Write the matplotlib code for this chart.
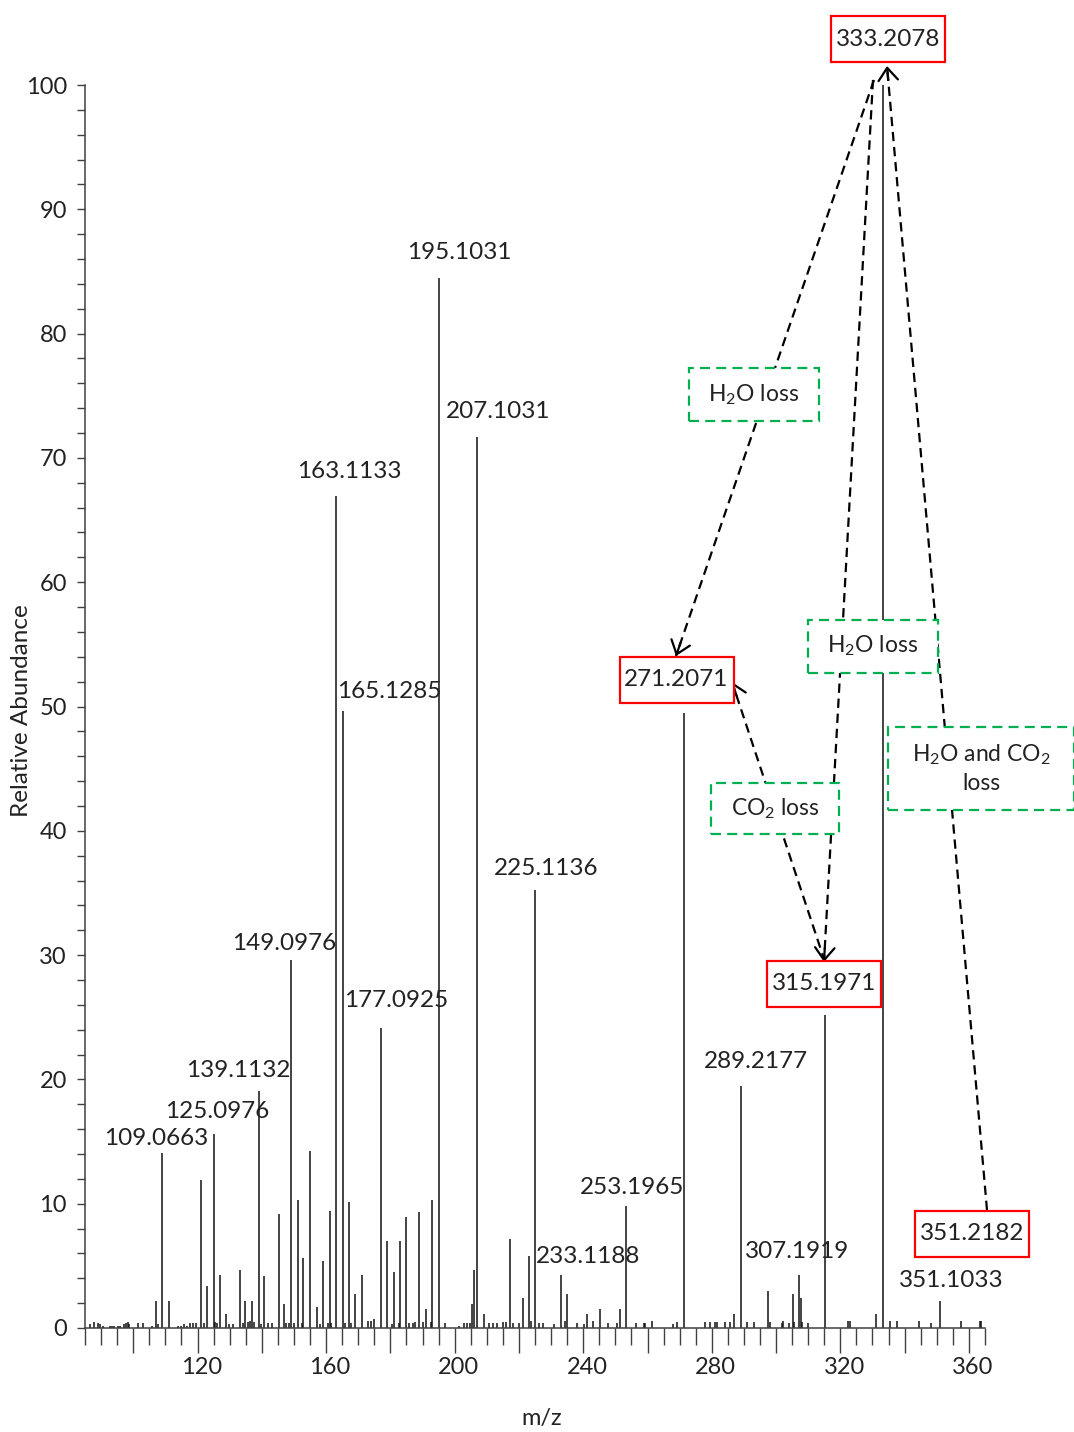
import matplotlib
matplotlib.use("Agg")
import matplotlib.pyplot as plt
from matplotlib.ticker import MultipleLocator, FuncFormatter
from matplotlib.patches import Rectangle
from matplotlib.transforms import IdentityTransform, ScaledTranslation
import numpy as np

plt.rcParams['font.family'] = ['Lato', 'DejaVu Sans']
plt.rcParams['mathtext.fontset'] = 'custom'
plt.rcParams['mathtext.rm'] = 'Lato'
plt.rcParams['mathtext.it'] = 'Lato:italic'
plt.rcParams['mathtext.bf'] = 'Lato:bold'

TEXT = '#222222'
FS_TICK = 17
FS_NUM = 17.5
FS_LOSS = 16.5
W, H = 1074, 1432

# --- labelled peaks (m/z, relative abundance) ---
label_mz = [109.0663, 125.0976, 139.1132, 149.0976, 163.1133, 165.1285, 177.0925,
            195.1031, 207.1031, 225.1136, 233.1188, 253.1965, 289.2177, 307.1919,
            351.1033]
label_int = [14.1, 15.6, 19.1, 29.6, 66.9, 49.6, 24.1,
             84.5, 71.7, 35.2, 4.3, 9.8, 19.5, 4.3,
             2.2]
# label offsets (pixels) from peak top
label_off = [(-6, 14), (3, 23), (-21, 20), (-7, 17), (13, 25), (47, 20), (15, 28),
             (20, 25), (21, 25), (11, 22), (27, 18), (6, 19), (15, 24), (-2, 23),
             (11, 20)]

# --- boxed key ions ---
key_mz = [271.2071, 315.1971, 333.2078]
key_int = [49.5, 25.2, 100.0]
key_off = [(-7, 33), (-1, 31), (5, 46)]

# --- other resolved peaks ---
mid_mz = [107.0, 111.0, 121.1, 123.0, 127.0, 128.9, 133.2, 134.9, 136.9, 140.8,
          145.3, 146.8, 151.3, 152.8, 155.1, 157.2, 159.0, 161.1, 167.0, 169.0,
          171.1, 179.0, 181.0, 183.0, 184.9, 188.9, 191.1, 192.9, 205.3, 205.9,
          209.1, 217.2, 221.2, 223.1, 235.0, 241.1, 245.3, 251.4, 287.0, 297.4,
          305.3, 307.7, 331.1]
mid_int = [2.2, 2.2, 11.9, 3.4, 4.3, 1.1, 4.7, 2.2, 2.2, 4.2,
           9.2, 1.9, 10.3, 5.6, 14.2, 1.7, 5.4, 9.4, 10.1, 2.7,
           4.3, 7.0, 4.5, 7.0, 8.9, 9.3, 1.5, 10.3, 1.9, 4.7,
           1.1, 7.2, 2.4, 5.8, 2.7, 1.1, 1.5, 1.5, 1.1, 3.0,
           2.7, 2.4, 1.1]

# --- baseline noise peaks ---
noise_mz = [86.5, 87.7, 89.1, 89.7, 90.6, 92.8, 93.4, 94.0, 95.3, 95.9,
            97.1, 97.7, 98.4, 98.7, 101.4, 103.0, 105.8, 107.8, 113.9, 114.9,
            115.8, 116.7, 117.7, 118.6, 119.5, 122.0, 125.4, 126.1, 129.8, 131.0,
            134.1, 135.7, 136.3, 137.6, 139.7, 141.8, 143.1, 147.5, 148.5, 150.0,
            152.5, 158.1, 160.5, 161.5, 165.9, 167.7, 172.9, 174.0, 175.0, 180.5,
            182.7, 185.8, 186.9, 187.7, 190.1, 192.6, 197.0, 201.2, 203.0, 203.8,
            204.7, 210.8, 211.8, 213.2, 214.9, 216.0, 218.1, 220.1, 223.7, 226.3,
            227.4, 231.0, 234.4, 238.2, 240.1, 242.9, 247.6, 250.5, 256.4, 258.8,
            259.2, 261.4, 268.0, 269.1, 277.8, 279.4, 281.0, 281.6, 284.2, 285.7,
            291.0, 293.0, 298.2, 301.7, 302.0, 304.1, 305.7, 308.2, 309.8, 322.3,
            323.1, 335.5, 337.6, 344.4, 348.2, 357.5, 363.4, 363.7]
noise_int = [0.3, 0.45, 0.4, 0.3, 0.2, 0.2, 0.2, 0.2, 0.2, 0.2,
             0.3, 0.4, 0.45, 0.3, 0.4, 0.4, 0.2, 0.3, 0.2, 0.2,
             0.3, 0.2, 0.4, 0.4, 0.4, 0.4, 0.5, 0.4, 0.3, 0.3,
             0.4, 0.5, 0.6, 0.5, 0.3, 0.4, 0.4, 0.4, 0.4, 0.4,
             0.4, 0.3, 0.4, 0.4, 0.4, 0.4, 0.6, 0.6, 0.7, 0.3,
             0.4, 0.4, 0.4, 0.5, 0.5, 0.5, 0.4, 0.2, 0.4, 0.4,
             0.4, 0.4, 0.4, 0.4, 0.5, 0.5, 0.4, 0.4, 0.6, 0.4,
             0.4, 0.3, 0.6, 0.4, 0.3, 0.6, 0.4, 0.4, 0.4, 0.4,
             0.4, 0.6, 0.3, 0.5, 0.5, 0.5, 0.5, 0.5, 0.5, 0.5,
             0.5, 0.5, 0.5, 0.4, 0.6, 0.4, 0.5, 0.5, 0.4, 0.6,
             0.6, 0.6, 0.6, 0.6, 0.4, 0.6, 0.6, 0.6]

prec_label = '351.2182'
loss_texts = ['H$_2$O loss', 'H$_2$O loss', 'CO$_2$ loss', 'H$_2$O and CO$_2$\nloss']

# layout (pixels from top-left): box centres and sizes, arrows
RED_SIZE = (114, 46)
prec_pos = (972, 1233.5)
loss_pos = [(754, 394.5), (873, 646), (775, 808.5), (981, 768.5)]
loss_size = [(130, 53), (130, 53), (128, 51), (186, 83)]
arrow_px = [((874, 80), (676, 656)),
            ((873, 80), (824, 962)),
            ((987, 1210), (887, 66)),
            ((825, 962), (732, 682))]

fig = plt.figure(figsize=(W / 100, H / 100), dpi=100)
ax = fig.add_axes([85 / W, 1 - 1328 / H, 900 / W, 1243 / H])

all_mz = np.array(label_mz + key_mz + mid_mz + noise_mz)
all_int = np.array(label_int + key_int + mid_int + noise_int)
ax.vlines(all_mz, 0, all_int, color='#111111', lw=1.1, zorder=2, clip_on=False)

ax.set_xlim(85, 365)
ax.set_ylim(0, 100)
for s in ['top', 'right']:
    ax.spines[s].set_visible(False)
for s in ['left', 'bottom']:
    ax.spines[s].set_color('#404040')
    ax.spines[s].set_linewidth(1.1)

ax.xaxis.set_major_locator(MultipleLocator(20))
ax.xaxis.set_minor_locator(MultipleLocator(5))
ax.xaxis.set_major_formatter(FuncFormatter(
    lambda v, p: f"{v:.0f}" if round(v - 120) % 40 == 0 else ""))
ax.yaxis.set_major_locator(MultipleLocator(10))
ax.yaxis.set_minor_locator(MultipleLocator(2))
ax.tick_params(axis='x', which='major', length=18, width=1.0, color='#404040',
               labelsize=FS_TICK, labelcolor=TEXT, pad=3)
ax.tick_params(axis='x', which='minor', length=12.5, width=1.0, color='#404040')
ax.tick_params(axis='y', which='major', length=6, width=1.0, color='#404040',
               labelsize=FS_TICK, labelcolor=TEXT, pad=7)
ax.tick_params(axis='y', which='minor', length=6, width=1.0, color='#404040')
shift = ScaledTranslation(0.04, 0, fig.dpi_scale_trans)
for lbl in ax.get_xticklabels():
    lbl.set_transform(lbl.get_transform() + shift)

ax.set_xlabel('m/z', fontsize=FS_TICK, color=TEXT)
ax.set_ylabel('Relative Abundance', fontsize=FS_TICK + 0.5, color=TEXT)
ax.xaxis.set_label_coords(0.507, -0.064)
ax.yaxis.set_label_coords(-0.059, 0.497)


def fp(x, y):
    """Top-left pixel position -> figure pixels."""
    return (x, H - y)


def add_box(cx, cy, w, h, ec, ls='-'):
    """Rectangle of w x h pixels centred on display point (cx, cy)."""
    ax.add_patch(Rectangle((cx - w / 2, cy - h / 2), w, h, transform=IdentityTransform(),
                           fc='white', ec=ec, lw=1.6, ls=ls, zorder=4, clip_on=False))


# peak labels
for mz, h, (dx, dy) in zip(label_mz, label_int, label_off):
    ax.annotate(f"{mz:.4f}", xy=(mz, h), xytext=(dx, dy), textcoords='offset pixels',
                ha='center', va='center', fontsize=FS_NUM, color=TEXT, zorder=5)

# dashed arrows with solid open heads
arrow_dash = (0, (4.2, 2.6))
for (x0, y0), (x1, y1) in arrow_px:
    p0 = np.array(fp(x0, y0), float)
    p1 = np.array(fp(x1, y1), float)
    ax.plot([p0[0], p1[0]], [p0[1], p1[1]], transform=IdentityTransform(),
            color='black', lw=1.6, ls=arrow_dash, zorder=3, clip_on=False)
    d = (p1 - p0) / np.hypot(*(p1 - p0))
    ax.annotate('', xy=tuple(p1), xycoords='figure pixels',
                xytext=tuple(p1 - d * 14), textcoords='figure pixels',
                annotation_clip=False, zorder=3,
                arrowprops=dict(arrowstyle='->,head_length=0.45,head_width=0.35',
                                color='black', lw=1.6, shrinkA=0, shrinkB=0,
                                mutation_scale=20))

# key ions in red boxes
for mz, h, (dx, dy) in zip(key_mz, key_int, key_off):
    cx, cy = ax.transData.transform((mz, h)) + np.array([dx, dy])
    add_box(cx, cy, *RED_SIZE, ec='#ff0000')
    ax.annotate(f"{mz:.4f}", xy=(cx, cy), xycoords='figure pixels', ha='center',
                va='center', fontsize=FS_NUM, color=TEXT, zorder=5, annotation_clip=False)
cx, cy = fp(*prec_pos)
add_box(cx, cy, *RED_SIZE, ec='#ff0000')
ax.annotate(prec_label, xy=(cx, cy), xycoords='figure pixels', ha='center', va='center',
            fontsize=FS_NUM, color=TEXT, zorder=5, annotation_clip=False)

# neutral-loss labels in green dashed boxes
green_dash = (0, (4.5, 2.8))
for txt, (x, y), (bw, bh) in zip(loss_texts, loss_pos, loss_size):
    cx, cy = fp(x, y)
    add_box(cx, cy, bw, bh, ec='#00b050', ls=green_dash)
    ax.annotate(txt, xy=(cx, cy), xycoords='figure pixels', ha='center', va='center',
                fontsize=FS_LOSS, color=TEXT, zorder=5, annotation_clip=False,
                linespacing=1.35)

fig.savefig('out.png', dpi=100)
